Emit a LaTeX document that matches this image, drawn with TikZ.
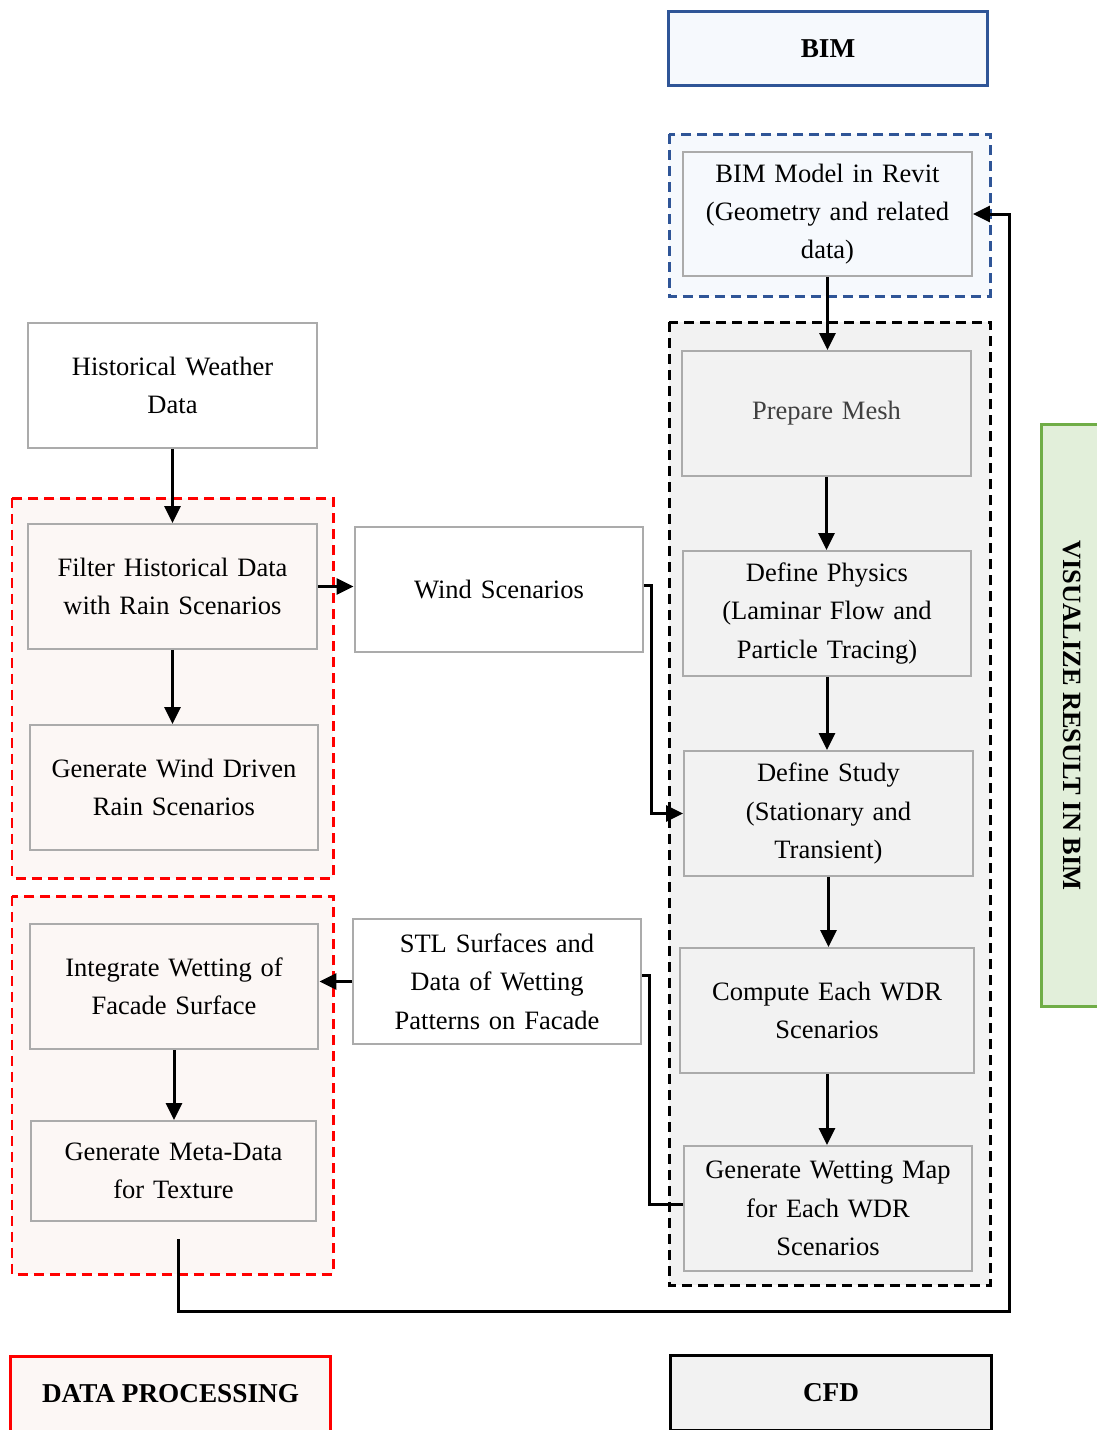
\documentclass[tikz,border=0pt]{standalone}
\usepackage{fontspec}
\setmainfont{Liberation Serif}
\usepackage{xcolor}
\usepackage{tikz}
\usetikzlibrary{arrows.meta, positioning, calc}
\definecolor{BIMBlue}{RGB}{47, 85, 151}
\definecolor{BIMFill}{RGB}{246, 249, 253}
\definecolor{DPRed}{RGB}{255, 0, 0}
\definecolor{DPFill}{RGB}{252, 247, 245}
\definecolor{CFDFill}{RGB}{242, 242, 242}
\definecolor{BoxBorder}{RGB}{171, 171, 171}
\definecolor{VisGreen}{RGB}{112, 173, 71}
\definecolor{VisFill}{RGB}{226, 239, 218}
\tikzset{
  stepbox/.style={draw=BoxBorder, line width=0.04cm, minimum width=5.78cm,
    minimum height=2.5cm, text width=5.6cm, align=center, inner sep=0pt,
    font=\fontsize{15.1}{21.8}\selectfont},
  headbox/.style={line width=0.06cm, minimum width=6.4cm, minimum height=1.5cm,
    align=center, inner sep=0pt, font=\fontsize{15.5}{18}\selectfont\bfseries},
  grpbox/.style={dash pattern=on 0.2cm off 0.12cm, line width=0.06cm},
  flow/.style={-{Triangle[length=0.34cm, width=0.32cm]}, line width=0.06cm},
  link/.style={line width=0.06cm}
}

\begin{document}
\begin{tikzpicture}[x=0.02cm, y=0.02cm]
    \useasboundingbox (0,0) rectangle (1097,-1430);

    % groups
    \draw[grpbox, draw=BIMBlue, fill=BIMFill] (669,-134) rectangle (990,-296);
    \draw[grpbox, draw=black, fill=CFDFill] (669,-322) rectangle (990,-1285);
    \draw[grpbox, draw=DPRed, fill=DPFill] (12,-498) rectangle (333,-878);
    \draw[grpbox, draw=DPRed, fill=DPFill] (12,-896) rectangle (333,-1274);

    % headers
    \node[headbox, draw=BIMBlue, fill=BIMFill] (bimhead) at (828,-48.5) {BIM};
    \node[headbox, draw=black, fill=CFDFill, minimum width=6.44cm] (cfdhead) at (831,-1393) {CFD};
    \node[headbox, draw=DPRed, fill=DPFill, minimum width=6.42cm] (dphead) at (170.5,-1394) {DATA PROCESSING};
    \node[headbox, draw=VisGreen, fill=VisFill, rotate=-90, minimum width=11.66cm,
      minimum height=1.24cm, font=\fontsize{15}{18}\selectfont\bfseries] (vishead) at (1072,-715.5) {VISUALIZE RESULT IN BIM};

    % BIM + CFD steps
    \node[stepbox, fill=BIMFill] (model) at (827.5,-214) {BIM Model in Revit\\(Geometry and related\\data)};
    \node[stepbox, fill=CFDFill, text=black!75] (mesh) at (826.5,-413.5) {Prepare Mesh};
    \node[stepbox, fill=CFDFill] (physics) at (827,-613.5) {Define Physics\\(Laminar Flow and\\Particle Tracing)};
    \node[stepbox, fill=CFDFill] (study) at (828.5,-813.5) {Define Study\\(Stationary and\\Transient)};
    \node[stepbox, fill=CFDFill, minimum width=5.88cm] (compute) at (827,-1010.5) {Compute Each WDR\\Scenarios};
    \node[stepbox, fill=CFDFill] (wetmap) at (828,-1208.5) {Generate Wetting Map\\for Each WDR\\Scenarios};

    % data processing steps
    \node[stepbox, fill=white] (hist) at (172.5,-385.5) {Historical Weather\\Data};
    \node[stepbox, fill=DPFill] (filter) at (172.5,-586.5) {Filter Historical Data\\with Rain Scenarios};
    \node[stepbox, fill=DPFill] (wdr) at (174,-787.5) {Generate Wind Driven\\Rain Scenarios};
    \node[stepbox, fill=white] (wind) at (499,-589.5) {Wind Scenarios};
    \node[stepbox, fill=DPFill] (integ) at (174,-986.5) {Integrate Wetting of\\Facade Surface};
    \node[stepbox, fill=DPFill, minimum width=5.7cm, minimum height=2cm] (meta) at (173.5,-1171) {Generate Meta-Data\\for Texture};
    \node[stepbox, fill=white] (stl) at (497,-981.5) {STL Surfaces and\\Data of Wetting\\Patterns on Facade};

    % connectors
    \draw[flow] (model.south) -- (model.south |- mesh.north);
    \draw[flow] (mesh.south) -- (mesh.south |- physics.north);
    \draw[flow] (physics.south) -- (physics.south |- study.north);
    \draw[flow] (study.south) -- (study.south |- compute.north);
    \draw[flow] (compute.south) -- (compute.south |- wetmap.north);
    \draw[flow] (hist.south) -- (hist.south |- filter.north);
    \draw[flow] (filter.south) -- (filter.south |- wdr.north);
    \draw[flow] (filter.east) -- (filter.east -| wind.west);
    \draw[flow] ($(wind.east)+(0,4)$) -- ++(7,0) |- (study.west);
    \draw[link] ($(wetmap.west)+(0,4)$) -- ++(-33,0) |- ($(stl.east)+(0,6)$);
    \draw[flow] (stl.west) -- (stl.west -| integ.east);
    \draw[flow] (integ.south) -- (integ.south |- meta.north);
    \coordinate (ret) at ($(meta.south)+(5,-17)$);
    \draw[flow] (ret) |- (1009,-1311) |- (model.east);
\end{tikzpicture}
\end{document}
